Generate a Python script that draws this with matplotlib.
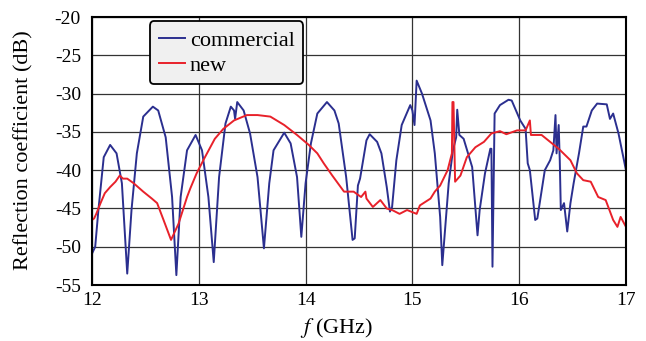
import matplotlib
matplotlib.use("Agg")
import matplotlib.pyplot as plt

# ========== Data ==========

comm_f = [12.00, 12.03, 12.06, 12.11, 12.17, 12.23, 12.28, 12.33, 12.37, 12.42,
          12.48, 12.57, 12.62, 12.69, 12.75, 12.79, 12.83, 12.89, 12.97, 13.03,
          13.09, 13.14, 13.19, 13.25, 13.30, 13.33, 13.34, 13.36, 13.42, 13.48,
          13.55, 13.61, 13.66, 13.70, 13.80, 13.86, 13.92, 13.96, 14.00, 14.05,
          14.11, 14.20, 14.27, 14.31, 14.38, 14.44, 14.46, 14.49, 14.51, 14.57,
          14.60, 14.67, 14.71, 14.76, 14.79, 14.81, 14.85, 14.90, 14.98, 15.00,
          15.02, 15.04, 15.09, 15.17, 15.21, 15.26, 15.28, 15.34, 15.38, 15.41,
          15.42, 15.44, 15.48, 15.56, 15.61, 15.63, 15.68, 15.73, 15.74, 15.75,
          15.77, 15.82, 15.90, 15.93, 16.01, 16.06, 16.08, 16.10, 16.15, 16.17,
          16.24, 16.29, 16.32, 16.34, 16.35, 16.37, 16.38, 16.39, 16.42, 16.45,
          16.48, 16.51, 16.56, 16.60, 16.63, 16.68, 16.73, 16.82, 16.85, 16.88,
          16.93, 17.00]
comm_db = [-50.9, -50.0, -45.2, -38.3, -36.7, -37.8, -41.7, -53.5, -45.2, -37.8,
           -33.0, -31.7, -32.2, -35.7, -43.5, -53.7, -43.5, -37.4, -35.4, -37.4,
           -43.5, -52.0, -40.9, -33.9, -31.7, -32.2, -33.3, -31.1, -32.2, -35.2,
           -40.9, -50.2, -41.7, -37.4, -35.1, -36.5, -40.9, -48.7, -41.7, -36.5,
           -32.6, -31.1, -32.2, -33.9, -40.9, -49.1, -48.9, -42.0, -41.1, -36.1,
           -35.3, -36.3, -37.8, -42.2, -45.4, -44.8, -38.7, -34.1, -31.5, -32.2,
           -34.1, -28.3, -30.0, -33.5, -37.8, -46.1, -52.4, -41.7, -37.4, -35.7,
           -32.1, -35.4, -35.9, -39.6, -48.5, -45.2, -40.4, -37.2, -37.2, -52.6,
           -32.6, -31.5, -30.8, -30.9, -33.5, -34.6, -39.1, -40.0, -46.5, -46.3,
           -40.0, -38.7, -37.4, -32.8, -37.8, -34.1, -38.7, -45.2, -44.3, -48.0,
           -44.3, -41.7, -37.8, -34.3, -34.3, -32.2, -31.3, -31.4, -33.3, -32.6,
           -35.2, -40.0]

new_f = [12.00, 12.02, 12.04, 12.08, 12.12, 12.17, 12.22, 12.26, 12.29, 12.33,
         12.39, 12.48, 12.56, 12.61, 12.67, 12.74, 12.81, 12.89, 12.92, 12.98,
         13.05, 13.15, 13.23, 13.33, 13.45, 13.55, 13.67, 13.80, 13.92, 14.03,
         14.11, 14.17, 14.25, 14.36, 14.45, 14.52, 14.56, 14.57, 14.63, 14.70,
         14.76, 14.81, 14.88, 14.95, 15.04, 15.07, 15.17, 15.21, 15.26, 15.33,
         15.37, 15.375, 15.385, 15.40, 15.45, 15.51, 15.59, 15.67, 15.74, 15.82,
         15.88, 15.98, 16.06, 16.10, 16.11, 16.21, 16.29, 16.37, 16.48, 16.54,
         16.60, 16.67, 16.74, 16.81, 16.88, 16.92, 16.95, 17.00]
new_db = [-46.5, -46.3, -45.7, -44.3, -43.0, -42.2, -41.5, -40.7, -41.1, -41.1,
          -41.7, -42.8, -43.7, -44.3, -46.5, -49.1, -47.0, -43.5, -42.4, -40.4,
          -38.5, -35.9, -34.6, -33.5, -32.8, -32.8, -33.0, -34.1, -35.4, -36.7,
          -37.8, -39.1, -40.7, -42.8, -42.8, -43.5, -42.8, -43.7, -44.8, -43.9,
          -45.0, -45.2, -45.7, -45.2, -45.7, -44.6, -43.7, -42.8, -42.0, -40.0,
          -37.8, -31.1, -31.1, -41.5, -40.7, -38.3, -37.0, -36.3, -35.2, -34.9,
          -35.3, -34.8, -34.8, -33.5, -35.4, -35.4, -36.3, -37.2, -38.7, -40.4,
          -41.3, -41.5, -43.5, -43.9, -46.5, -47.4, -46.1, -47.4]

x_ticks = [12, 13, 14, 15, 16, 17]
y_ticks = [-55, -50, -45, -40, -35, -30, -25, -20]

# ========== Plot ==========

plt.rcParams['font.family'] = ['Liberation Serif', 'DejaVu Serif']
plt.rcParams['mathtext.fontset'] = 'stix'
plt.rcParams['axes.unicode_minus'] = False

fig = plt.figure(figsize=(6.46, 3.41), dpi=100)
ax = fig.add_axes([0.1424, 0.164, 0.8266, 0.786])

ax.plot(comm_f, comm_db, color='#2b2f8f', lw=1.4, label='commercial')
ax.plot(new_f, new_db, color='#e8212a', lw=1.4, label='new')

ax.set_xlim(12, 17)
ax.set_ylim(-55, -20)
ax.set_xticks(x_ticks)
ax.set_yticks(y_ticks)
ax.tick_params(length=0, labelsize=14, pad=8)
ax.tick_params(axis='x', pad=5)
ax.grid(True, color='#333333', lw=0.9)
ax.set_axisbelow(True)
for s in ax.spines.values():
    s.set_linewidth(1.5)

ax.set_xlabel('$f$ (GHz)', fontsize=16)
ax.set_ylabel('Reflection coefficient (dB)', fontsize=16)
ax.xaxis.set_label_coords(0.457, -0.115)
ax.yaxis.set_label_coords(-0.11, 0.505)

leg = ax.legend(loc='upper left', bbox_to_anchor=(0.108, 0.985), fontsize=16,
                fancybox=True, framealpha=1, edgecolor='black',
                facecolor='#f0f0f0', handlelength=1.2, handletextpad=0.2,
                borderpad=0.4, labelspacing=0.2, borderaxespad=0)
leg.get_frame().set_linewidth(1.3)

fig.savefig('out.png', dpi=100)
